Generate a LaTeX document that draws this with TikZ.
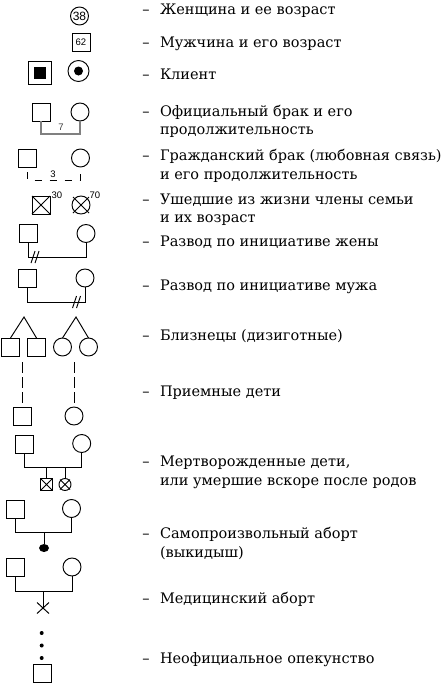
\documentclass[tikz,border=0pt]{standalone}
\usepackage{fontspec}
\setmainfont{DejaVu Serif}
\newfontfamily\numfont{Liberation Sans}
\usetikzlibrary{calc,shapes.geometric,shapes.misc}
\begin{document}
\begin{tikzpicture}[x=1pt,y=-1pt,
  every node/.style={inner sep=0pt, outer sep=0pt},
  sq/.style={draw, rectangle, minimum size=18pt, line width=0.95pt},
  ci/.style={draw, circle, minimum size=18pt, line width=0.95pt},
  ln/.style={line width=0.95pt},
  txt/.style={anchor=base west, font=\fontsize{14.5}{17}\selectfont},
  dsh/.style={anchor=base, font=\fontsize{14.5}{17}\selectfont},
  num/.style={font=\numfont\fontsize{9.5}{10}\selectfont},
  xdot/.style={circle, fill=black, minimum size=4pt}
]
\useasboundingbox (0,0) rectangle (441,683);

% --- symbols ---
% woman with age
\node[ci, font=\numfont\fontsize{12}{12}\selectfont] (w38) at (79.5,16) {38};
% man with age
\node[sq, num] (m62) at (81,42) {62};
% client
\node[sq, minimum size=23pt] (cl) at (40,72.5) {};
\node[fill=black, minimum size=12pt] (cli) at (cl.center) {};
\node[ci, minimum size=21pt] (clw) at (78.5,71) {};
\node[circle, fill=black, minimum size=9pt] (clwi) at (clw.center) {};

% official marriage
\node[sq] (om) at (41,112) {};
\node[ci] (ow) at (80,112) {};
\draw[gray, line width=1.4pt] (om.south) -- ++(0,13) -| (ow.south);
\node[num, text=black!75] (o7) at (61,127) {7};

% civil marriage
\node[sq] (cm) at (27.5,158) {};
\node[ci] (cw) at (80.5,158) {};
\draw[ln, dash pattern=on 7pt off 8pt, dash phase=10pt] (cm.south) -- ++(0,13) -| (cw.south);
\node[num] (c3) at (53,174) {3};

% deceased
\node[sq] (dm) at (41,205) {};
\draw[ln] (dm.north west) -- (dm.south east) (dm.north east) -- (dm.south west);
\node[num, anchor=west] (d30) at (51.5,195) {30};
\node[ci] (dw) at (81,205) {};
\draw[ln] ($(dw.center)+(-8,-8)$) -- ($(dw.center)+(8,8)$)
          ($(dw.center)+(8,-8)$) -- ($(dw.center)+(-8,8)$);
\node[num, anchor=west] (d70) at (89.5,195) {70};

% divorce by wife
\node[sq] (am) at (28,233) {};
\node[ci] (aw) at (86,233.5) {};
\draw[ln] (am.south) -- ++(0,15) -| (aw.south);
\coordinate (as) at (35,257);
\draw[ln] ($(as)+(-4,6)$) -- ($(as)+(0,-6)$) ($(as)+(0,6)$) -- ($(as)+(4,-6)$);

% divorce by husband
\node[sq] (bm) at (27.5,278) {};
\node[ci] (bw) at (85,278) {};
\draw[ln] (bm.south) -- ++(0,15) -| (bw.south);
\coordinate (bs) at (76.5,302);
\draw[ln] ($(bs)+(-4,6)$) -- ($(bs)+(0,-6)$) ($(bs)+(0,6)$) -- ($(bs)+(4,-6)$);

% twins
\node[sq] (t1) at (10.5,347) {};
\node[sq] (t2) at (36.5,347) {};
\coordinate (ta) at (24,317);
\draw[ln] (t1.north) -- (ta) -- (t2.north);
\node[ci] (t3) at (62.5,347) {};
\node[ci] (t4) at (88.5,347) {};
\coordinate (tb) at (76,317);
\draw[ln] (t3.north) -- (tb) -- (t4.north);

% adopted
\node[sq] (ad1) at (22.5,416) {};
\coordinate (ad1t) at (22.5,362);
\draw[ln, dash pattern=on 11pt off 4pt] (ad1t) -- (ad1.north);
\node[ci] (ad2) at (74,416) {};
\coordinate (ad2t) at (74,362);
\draw[ln, dash pattern=on 11pt off 4pt] (ad2t) -- (ad2.north);

% stillborn
\node[sq] (sm) at (24.5,444.5) {};
\node[ci] (sw) at (81.7,443.5) {};
\draw[ln] (sm.south) -- ++(0,13.5) -| (sw.south);
\coordinate (ssib) at ($(sm.south)+(0,13.5)$);
\node[sq, minimum size=12pt] (sc1) at (46.5,484.5) {};
\draw[ln] (sc1.north west) -- (sc1.south east) (sc1.north east) -- (sc1.south west);
\node[ci, minimum size=12pt] (sc2) at (65,484.5) {};
\draw[ln] ($(sc2.center)+(-5,-5)$) -- ($(sc2.center)+(5,5)$)
          ($(sc2.center)+(5,-5)$) -- ($(sc2.center)+(-5,5)$);
\draw[ln] (sc1.north) -- (sc1.north |- ssib);
\draw[ln] (sc2.north) -- (sc2.north |- ssib);

% miscarriage
\node[sq] (mm) at (15.5,509.5) {};
\node[ci] (mw) at (71.5,508.5) {};
\draw[ln] (mm.south) -- ++(0,13.5) -| (mw.south);
\coordinate (msib) at ($(mm.south)+(0,13.5)$);
\node[ellipse, fill=black, minimum width=10pt, minimum height=8pt] (mis) at (44,548) {};
\draw[ln] (mis.north) -- (mis.north |- msib);

% medical abortion
\node[sq] (am2) at (15.5,567) {};
\node[ci] (aw2) at (72,567) {};
\draw[ln] (am2.south) -- ++(0,15) -| (aw2.south);
\coordinate (asib) at ($(am2.south)+(0,15)$);
\node[cross out, draw, line width=0.95pt, minimum width=12pt, minimum height=11pt] (abx) at (43,608) {};
\draw[ln] (abx.center) -- (abx.center |- asib);

% informal guardianship
\node[xdot] (g1) at (41.7,633) {};
\node[xdot] (g2) at (41.7,645.5) {};
\node[xdot] (g3) at (41.7,658) {};
\node[sq] (fo) at (42.5,673) {};

% --- texts ---
\foreach \n/\y in {1/9.5,2/42.5,3/75,4/111.5,5/156,6/200,7/242,8/286,9/335.5,10/391.5,11/462,12/533.5,13/598.5,14/659}
  \node[dsh] (dash\n) at (146,\y+4.5) {–};

\node[txt] (l1) at (160,14) {Женщина и ее возраст};
\node[txt] (l2) at (160,47) {Мужчина и его возраст};
\node[txt] (l3) at (160,79.5) {Клиент};
\node[txt] (l4a) at (160,116) {Официальный брак и его};
\node[txt] (l4b) at (160,134.5) {продолжительность};
\node[txt] (l5a) at (160,160.5) {Гражданский брак (любовная связь)};
\node[txt] (l5b) at (160,179.5) {и его продолжительность};
\node[txt] (l6a) at (160,204.5) {Ушедшие из жизни члены семьи};
\node[txt] (l6b) at (160,222.5) {и их возраст};
\node[txt] (l7) at (160,246.5) {Развод по инициативе жены};
\node[txt] (l8) at (160,290.5) {Развод по инициативе мужа};
\node[txt] (l9) at (160,340) {Близнецы (дизиготные)};
\node[txt] (l10) at (160,396) {Приемные дети};
\node[txt] (l11a) at (160,466.5) {Мертворожденные дети,};
\node[txt] (l11b) at (160,485.5) {или умершие вскоре после родов};
\node[txt] (l12a) at (160,538) {Самопроизвольный аборт};
\node[txt] (l12b) at (160,557.5) {(выкидыш)};
\node[txt] (l13) at (160,603) {Медицинский аборт};
\node[txt] (l14) at (160,663.5) {Неофициальное опекунство};
\end{tikzpicture}
\end{document}
